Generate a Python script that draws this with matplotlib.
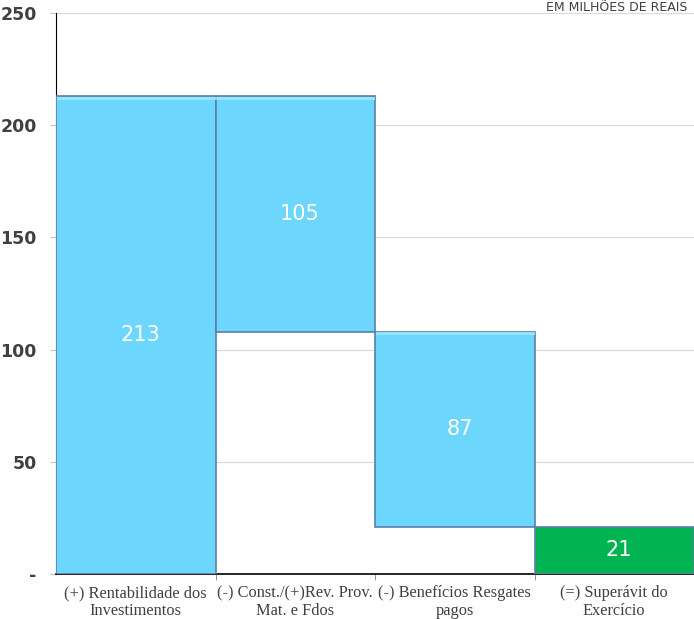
import matplotlib.pyplot as plt
import numpy as np

# dados (em milhões de reais)
categorias = ["(+) Rentabilidade dos\nInvestimentos", "(-) Const./(+)Rev. Prov.\nMat. e Fdos",
              "(-) Benefícios Resgates\npagos", "(=) Superávit do\nExercício"]
valores = [213, 105, 87, 21]
bases = [0, 108, 21, 0]
cores = ["#6dd6fd", "#6dd6fd", "#6dd6fd", "#00b551"]
yticks = [0, 50, 100, 150, 200, 250]
yticklabels = ["-", "50", "100", "150", "200", "250"]

fig = plt.figure(figsize=(6.94, 6.19), dpi=100)
ax = fig.add_axes([56/694, 45/619, 1 - 56/694, 561/619])

x = np.arange(len(categorias))
ax.bar(x, valores, bottom=bases, width=1.0, color=cores, edgecolor="#5a7fa8", linewidth=1.2, zorder=3)
# faixa clara no topo das barras
for xi, v, b, c in zip(x, valores, bases, cores):
    if c != "#00b551":
        ax.plot([xi - 0.49, xi + 0.49], [v + b - 0.8, v + b - 0.8], color="#9ae6ff", lw=2, zorder=4)
    ax.text(xi + 0.03, b + v / 2, str(v), color="white", ha="center", va="center",
            fontsize=15, zorder=5)

ax.set_xlim(-0.5, 3.5)
ax.set_ylim(0, 250)
ax.set_yticks(yticks)
ax.set_yticklabels(yticklabels, fontsize=12.5, fontweight="bold", color="#404040")
ax.grid(axis="y", color="#d9d9d9", lw=0.8, zorder=0)
ax.set_axisbelow(True)

ax.set_xticks(x)
ax.set_xticklabels(categorias, family="Liberation Serif", fontsize=11.8, color="#404040",
                   linespacing=1.15)
ax.tick_params(axis="x", length=0, pad=8)
ax.set_xticks([0.5, 1.5, 2.5], minor=True)
ax.tick_params(axis="x", which="minor", length=4, color="#808080")
ax.tick_params(axis="y", length=4, color="#c0c0c0", pad=10)

for s in ["top", "right"]:
    ax.spines[s].set_visible(False)
ax.spines["left"].set_color("black")
ax.spines["bottom"].set_color("black")
ax.spines["bottom"].set_linewidth(1.2)

fig.text(0.99, 0.999, "EM MILHÕES DE REAIS", ha="right", va="top", fontsize=9, color="#404040")

fig.savefig("out.png", dpi=100)
